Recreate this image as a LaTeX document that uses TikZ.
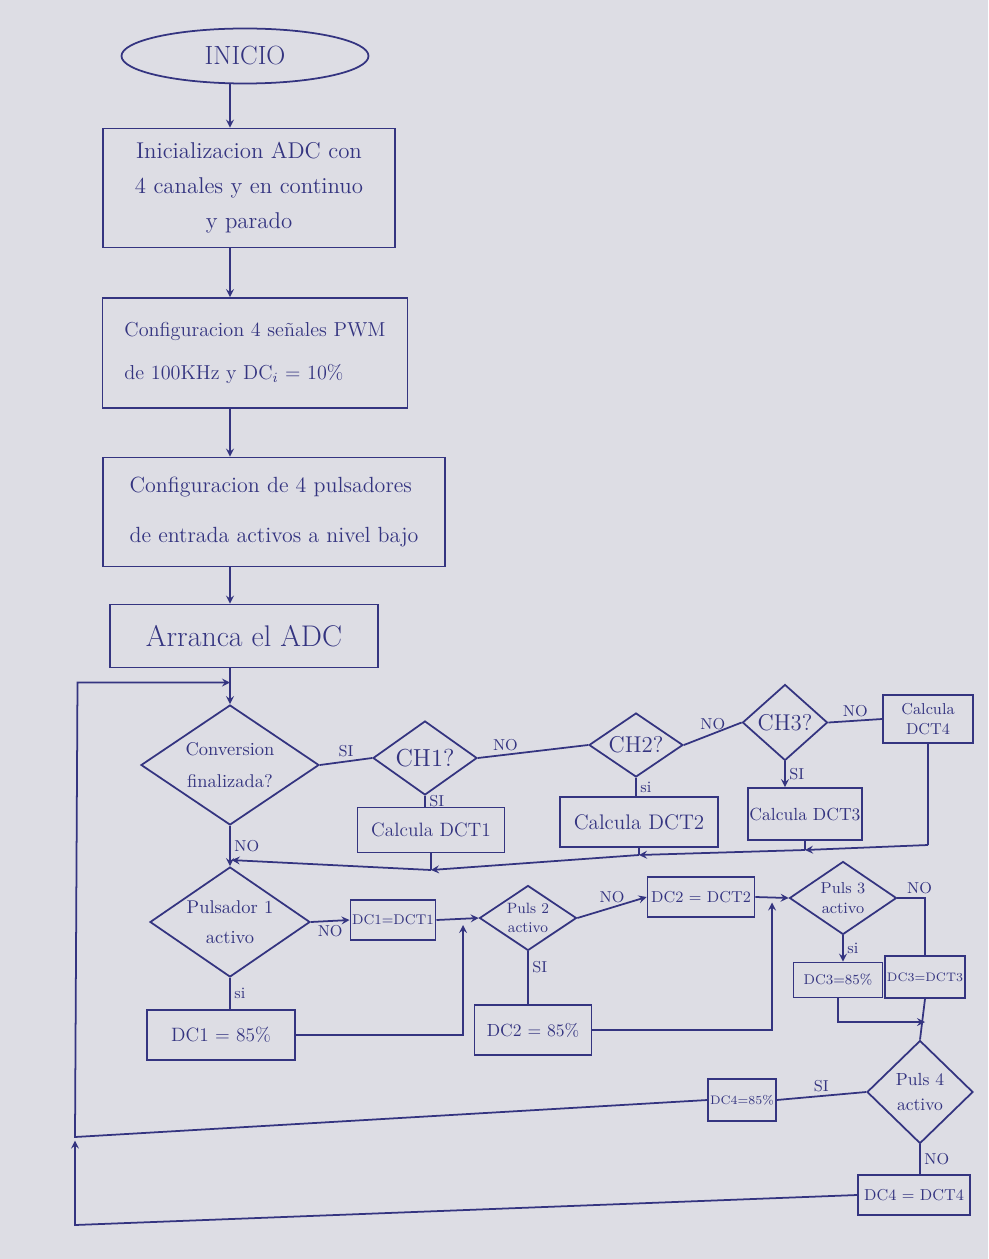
\documentclass[tikz,border=0pt]{standalone}
\usepackage{tikz}
\usepackage{xcolor}
\usetikzlibrary{shapes.geometric}

\definecolor{paper}{RGB}{221,221,228}
\definecolor{ink}{RGB}{52,52,128}

\begin{document}
\begin{tikzpicture}[
      color=ink,
      proc/.style={draw, line width=1pt, inner sep=1pt, align=center},
      dec/.style={draw, diamond, line width=1pt, inner sep=0pt, align=center},
      lbl/.style={font=\fontsize{9}{10}\selectfont, inner sep=2pt},
      lin/.style={line width=1pt},
      arr/.style={->, line width=1pt, >=stealth}
    ]
      \fill[paper] (0,0) rectangle (19.76,-25.18);

      \node[proc, ellipse, minimum width=4.94cm, minimum height=1.1cm, font=\fontsize{15}{18}\selectfont] (inicio) at (4.9,-1.12) {INICIO};
      \node[proc, minimum width=5.84cm, minimum height=2.38cm, font=\fontsize{13}{20}\selectfont] (init) at (4.98,-3.76) {Inicializacion ADC con\\4 canales y en continuo\\y parado};
      \node[proc, align=left, minimum width=6.1cm, minimum height=2.2cm, font=\fontsize{11.5}{24}\selectfont] (pwm) at (5.1,-7.06) {Configuracion 4 señales PWM\\de 100KHz y DC$_i$ = 10\%};
      \node[proc, align=left, minimum width=6.84cm, minimum height=2.18cm, font=\fontsize{12.5}{28}\selectfont] (puls) at (5.48,-10.24) {Configuracion de 4 pulsadores\\de entrada activos a nivel bajo};
      \node[proc, minimum width=5.36cm, minimum height=1.26cm, font=\fontsize{17}{20}\selectfont] (arranca) at (4.88,-12.72) {Arranca el ADC};

      \node[dec, aspect=1.48, minimum width=3.56cm, minimum height=2.4cm, font=\fontsize{10.5}{18}\selectfont] (conv) at (4.6,-15.3) {Conversion\\finalizada?};
      \node[dec, aspect=1.4, minimum width=2.08cm, minimum height=1.48cm, font=\fontsize{14}{16}\selectfont] (ch1) at (8.5,-15.16) {CH1?};
      \node[proc, minimum width=2.94cm, minimum height=0.9cm, font=\fontsize{11}{13}\selectfont] (dct1) at (8.62,-16.6) {Calcula DCT1};
      \node[dec, aspect=1.47, minimum width=1.88cm, minimum height=1.28cm, font=\fontsize{13}{15}\selectfont] (ch2) at (12.72,-14.9) {CH2?};
      \node[proc, minimum width=3.16cm, minimum height=1.0cm, font=\fontsize{12}{14}\selectfont] (dct2) at (12.78,-16.44) {Calcula DCT2};
      \node[dec, aspect=1.12, minimum width=1.7cm, minimum height=1.52cm, font=\fontsize{13}{15}\selectfont] (ch3) at (15.7,-14.45) {CH3?};
      \node[proc, minimum width=2.28cm, minimum height=1.04cm, font=\fontsize{10}{12}\selectfont] (dct3) at (16.1,-16.28) {Calcula DCT3};
      \node[proc, minimum width=1.8cm, minimum height=0.96cm, font=\fontsize{9}{11}\selectfont] (dct4) at (18.56,-14.38) {Calcula\\DCT4};

      \node[dec, aspect=1.45, minimum width=3.2cm, minimum height=2.2cm, font=\fontsize{10.5}{17}\selectfont] (pul1) at (4.6,-18.44) {Pulsador 1\\activo};
      \node[proc, minimum width=1.6cm, minimum height=0.8cm, font=\fontsize{8}{10}\selectfont] (dc1t) at (7.86,-18.4) {DC1=DCT1};
      \node[proc, minimum width=2.96cm, minimum height=1.0cm, font=\fontsize{11}{13}\selectfont] (dc1p) at (4.42,-20.7) {DC1 = 85\%};
      \node[dec, aspect=1.49, minimum width=1.94cm, minimum height=1.3cm, font=\fontsize{8.5}{11}\selectfont] (pul2) at (10.56,-18.36) {Puls 2\\activo};
      \node[proc, minimum width=2.34cm, minimum height=1.0cm, font=\fontsize{10}{12}\selectfont] (dc2p) at (10.66,-20.6) {DC2 = 85\%};
      \node[proc, minimum width=2.14cm, minimum height=0.8cm, font=\fontsize{9}{11}\selectfont] (dc2t) at (14.02,-17.94) {DC2 = DCT2};
      \node[dec, aspect=1.47, minimum width=2.14cm, minimum height=1.46cm, font=\fontsize{9}{11}\selectfont] (pul3) at (16.86,-17.96) {Puls 3\\activo};
      \node[proc, minimum width=1.78cm, minimum height=0.7cm, font=\fontsize{8}{10}\selectfont] (dc3p) at (16.76,-19.6) {DC3=85\%};
      \node[proc, minimum width=1.38cm, minimum height=0.84cm, font=\fontsize{7}{9}\selectfont] (dc3t) at (18.5,-19.54) {DC3=DCT3};
      \node[dec, aspect=1.03, minimum width=2.12cm, minimum height=2.06cm, font=\fontsize{10}{14}\selectfont] (pul4) at (18.4,-21.84) {Puls 4\\activo};
      \node[proc, minimum width=1.3cm, minimum height=0.84cm, font=\fontsize{7}{9}\selectfont] (dc4p) at (14.84,-22.0) {DC4=85\%};
      \node[proc, minimum width=2.24cm, minimum height=0.8cm, font=\fontsize{9}{11}\selectfont] (dc4t) at (18.28,-23.9) {DC4 = DCT4};

      \coordinate (lpin) at (4.6,-13.65);
      \coordinate (lptop) at (1.55,-13.65);
      \coordinate (lpmid) at (1.5,-22.74);
      \coordinate (lpbot) at (1.5,-24.5);
      \coordinate (r4) at (dct4.south |- 0,-16.9);
      \coordinate (j3) at (dct3.south |- 0,-17.0);
      \coordinate (j2) at (dct2.south |- 0,-17.1);
      \coordinate (j1) at (dct1.south |- 0,-17.4);
      \coordinate (j0) at (conv.south |- 0,-17.2);
      \coordinate (m1) at (9.26,-18.5);
      \coordinate (m2) at (15.44,-18.05);
      \coordinate (m3) at (dc3t.south |- 0,-20.44);

      \draw[arr] (inicio.south -| conv.north) -- (init.north -| conv.north);
      \draw[arr] (init.south -| conv.north) -- (pwm.north -| conv.north);
      \draw[arr] (pwm.south -| conv.north) -- (puls.north -| conv.north);
      \draw[arr] (puls.south -| conv.north) -- (arranca.north -| conv.north);
      \draw[arr] (arranca.south -| conv.north) -- (conv.north);

      \draw[lin] (conv.east) -- node[lbl, above] {SI} (ch1.west);
      \draw[lin] (ch1.south) -- node[lbl, right] {SI} (ch1.south |- dct1.north);
      \draw[lin] (ch1.east) -- node[lbl, above, pos=0.25] {NO} (ch2.west);
      \draw[lin] (ch2.south) -- node[lbl, right] {si} (ch2.south |- dct2.north);
      \draw[lin] (ch2.east) -- node[lbl, above] {NO} (ch3.west);
      \draw[arr] (ch3.south) -- node[lbl, right] {SI} (ch3.south |- dct3.north);
      \draw[lin] (ch3.east) -- node[lbl, above] {NO} (dct4.west);

      \draw[lin] (dct4.south) -- (r4);
      \draw[arr] (r4) -- (j3);
      \draw[lin] (dct3.south) -- (j3);
      \draw[arr] (j3) -- (j2);
      \draw[lin] (dct2.south) -- (j2);
      \draw[arr] (j2) -- (j1);
      \draw[lin] (dct1.south) -- (j1);
      \draw[arr, shorten >=1pt] (j1) -- (j0);

      \draw[arr] (conv.south) -- node[lbl, right] {NO} (pul1.north);
      \draw[arr] (pul1.east) -- node[lbl, below] {NO} (dc1t.west);
      \draw[arr] (dc1t.east) -- (pul2.west);
      \draw[lin] (pul1.south) -- node[lbl, right] {si} (pul1.south |- dc1p.north);
      \draw[arr] (dc1p.east) -| (m1);
      \draw[lin] (pul2.south) -- node[lbl, right, pos=0.3] {SI} (pul2.south |- dc2p.north);
      \draw[arr] (pul2.east) -- node[lbl, above] {NO} (dc2t.west);
      \draw[arr] (dc2t.east) -- (pul3.west);
      \draw[arr] (dc2p.east) -| (m2);
      \draw[arr] (pul3.south) -- node[lbl, right] {si} (pul3.south |- dc3p.north);
      \draw[lin] (pul3.east) -| node[lbl, above, pos=0.4] {NO} (dc3t.north);
      \draw[arr] (dc3p.south) |- (m3);
      \draw[lin] (dc3t.south) -- (pul4.north);
      \draw[lin] (pul4.west) -- node[lbl, above] {SI} (dc4p.east);
      \draw[lin] (pul4.south) -- node[lbl, right] {NO} (pul4.south |- dc4t.north);

      \draw[arr] (dc4p.west) -- (lpmid) -- (lptop) -- (lpin);
      \draw[arr] (dc4t.west) -- (lpbot) -- ([yshift=-2pt]lpmid);
    \end{tikzpicture}
\end{document}
